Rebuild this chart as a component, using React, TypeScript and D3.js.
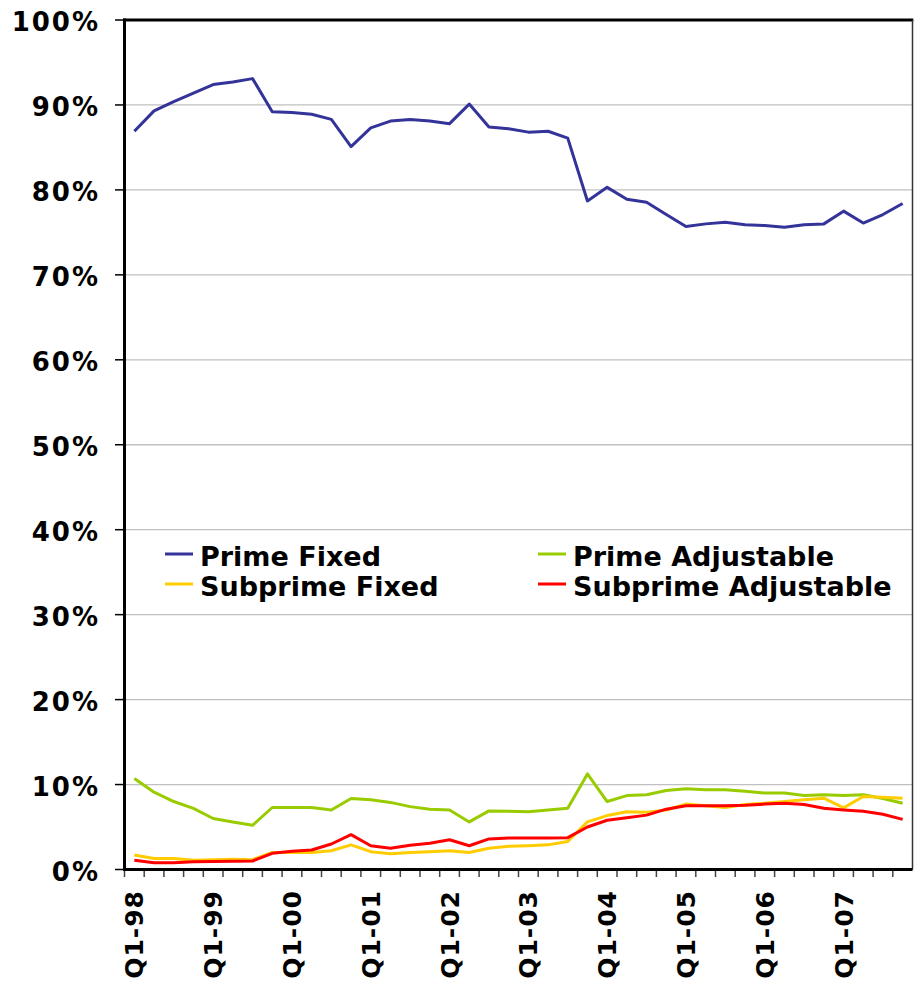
import React from "react";
import * as d3 from "d3";

const quarters = [
  "Q1-98","Q2-98","Q3-98","Q4-98","Q1-99","Q2-99","Q3-99","Q4-99",
  "Q1-00","Q2-00","Q3-00","Q4-00","Q1-01","Q2-01","Q3-01","Q4-01",
  "Q1-02","Q2-02","Q3-02","Q4-02","Q1-03","Q2-03","Q3-03","Q4-03",
  "Q1-04","Q2-04","Q3-04","Q4-04","Q1-05","Q2-05","Q3-05","Q4-05",
  "Q1-06","Q2-06","Q3-06","Q4-06","Q1-07","Q2-07","Q3-07","Q4-07",
];

const primeFixed = [86.9, 89.3, 90.4, 91.4, 92.4, 92.7, 93.1, 89.2, 89.1, 88.9, 88.3, 85.1, 87.3, 88.1, 88.3, 88.1, 87.8, 90.1, 87.4, 87.2, 86.8, 86.9, 86.1, 78.7, 80.3, 78.9, 78.55, 77.1, 75.7, 76.0, 76.2, 75.9, 75.8, 75.6, 75.9, 76.0, 77.5, 76.1, 77.1, 78.4];
const primeAdjustable = [10.7, 9.1, 8.0, 7.2, 6.0, 5.6, 5.2, 7.3, 7.3, 7.3, 7.0, 8.35, 8.2, 7.9, 7.4, 7.1, 7.0, 5.6, 6.9, 6.85, 6.8, 7.0, 7.2, 11.25, 8.0, 8.7, 8.8, 9.3, 9.5, 9.4, 9.4, 9.2, 9.0, 9.0, 8.7, 8.8, 8.7, 8.8, 8.35, 7.8];
const subprimeFixed = [1.7, 1.3, 1.3, 1.1, 1.15, 1.2, 1.15, 2.0, 2.0, 2.0, 2.2, 2.9, 2.1, 1.85, 2.0, 2.1, 2.2, 2.0, 2.5, 2.75, 2.8, 2.9, 3.3, 5.6, 6.35, 6.8, 6.75, 7.0, 7.7, 7.5, 7.3, 7.65, 7.8, 8.0, 8.2, 8.4, 7.25, 8.6, 8.5, 8.4];
const subprimeAdjustable = [1.1, 0.8, 0.8, 0.9, 0.94, 0.98, 1.0, 1.9, 2.15, 2.3, 3.0, 4.1, 2.8, 2.5, 2.85, 3.1, 3.5, 2.8, 3.6, 3.7, 3.7, 3.7, 3.75, 5.0, 5.8, 6.1, 6.4, 7.1, 7.5, 7.5, 7.5, 7.55, 7.7, 7.8, 7.65, 7.2, 7.0, 6.85, 6.5, 5.9];

const seriesNames = ["Prime Fixed", "Prime Adjustable", "Subprime Fixed", "Subprime Adjustable"];
const seriesColors = ["#333399", "#99CC00", "#FFCC00", "#FF0000"];
const seriesValues = [primeFixed, primeAdjustable, subprimeFixed, subprimeAdjustable];

const yTicks = [0, 10, 20, 30, 40, 50, 60, 70, 80, 90, 100];

const W = 914;
const H = 981;
const left = 124.5;
const right = 912.5;
const top = 20;
const bottom = 869.5;

const FONT = "'DejaVu Sans', Verdana, sans-serif";

export default function App() {
  const x = d3.scaleBand<string>().domain(quarters).range([left, right]).padding(0);
  const y = d3.scaleLinear().domain([0, 100]).range([bottom, top]);
  const cx = (q: string) => (x(q) as number) + x.bandwidth() / 2;

  const line = d3
    .line<number>()
    .x((_, i) => cx(quarters[i]))
    .y((d) => y(d));

  const legendItems = [
    { i: 0, lx: 165, ly: 554 },
    { i: 1, lx: 538, ly: 554 },
    { i: 2, lx: 165, ly: 584 },
    { i: 3, lx: 538, ly: 584 },
  ];

  return (
    <svg
      width={W}
      height={H}
      style={{ position: "absolute", left: 0, top: 0, background: "#fff" }}
    >
      <rect x={0} y={0} width={W} height={H} fill="#fff" />
      {yTicks.filter((t) => t > 0 && t < 100).map((t) => (
        <line key={"g" + t} x1={left} x2={right} y1={y(t)} y2={y(t)} stroke="#c0c0c0" strokeWidth={1.3} />
      ))}
      <line x1={left - 1.5} x2={right + 0.8} y1={top} y2={top} stroke="#000" strokeWidth={3} />
      <line x1={right} x2={right} y1={top} y2={bottom} stroke="#333" strokeWidth={1.5} />
      {yTicks.map((t) => (
        <g key={"y" + t}>
          <line x1={115} x2={left} y1={y(t)} y2={y(t)} stroke="#000" strokeWidth={1.5} />
          <text
            x={100}
            y={y(t) + 11}
            textAnchor="end"
            fontFamily={FONT}
            fontWeight="bold"
            fontSize={26}
            letterSpacing={2}
            fill="#000"
          >
            {t + "%"}
          </text>
        </g>
      ))}
      {quarters.map((q) => (
        <line key={"xt" + q} x1={x(q) as number} x2={x(q) as number} y1={bottom} y2={877} stroke="#444" strokeWidth={1.5} />
      ))}
      {quarters.filter((q) => q.startsWith("Q1")).map((q) => (
        <text
          key={"xl" + q}
          transform={`translate(${cx(q)},${890}) rotate(-90)`}
          textAnchor="end"
          dy={9}
          fontFamily={FONT}
          fontWeight="bold"
          fontSize={25}
          letterSpacing={1}
          fill="#000"
        >
          {q}
        </text>
      ))}
      {seriesValues.map((vals, i) => (
        <path
          key={"s" + i}
          d={line(vals) || ""}
          fill="none"
          stroke={seriesColors[i]}
          strokeWidth={3}
          strokeLinejoin="round"
        />
      ))}
      <line x1={left} x2={left} y1={top - 1.5} y2={bottom + 1} stroke="#000" strokeWidth={3} />
      <line x1={left - 1.5} x2={right} y1={bottom} y2={bottom} stroke="#000" strokeWidth={3} />
      {legendItems.map(({ i, lx, ly }) => (
        <g key={"lg" + i}>
          <line x1={lx} x2={lx + 28} y1={ly} y2={ly} stroke={seriesColors[i]} strokeWidth={3} />
          <text
            x={lx + 35}
            y={ly + 11.5}
            fontFamily={FONT}
            fontWeight="bold"
            fontSize={27}
            fill="#000"
          >
            {seriesNames[i]}
          </text>
        </g>
      ))}
    </svg>
  );
}
